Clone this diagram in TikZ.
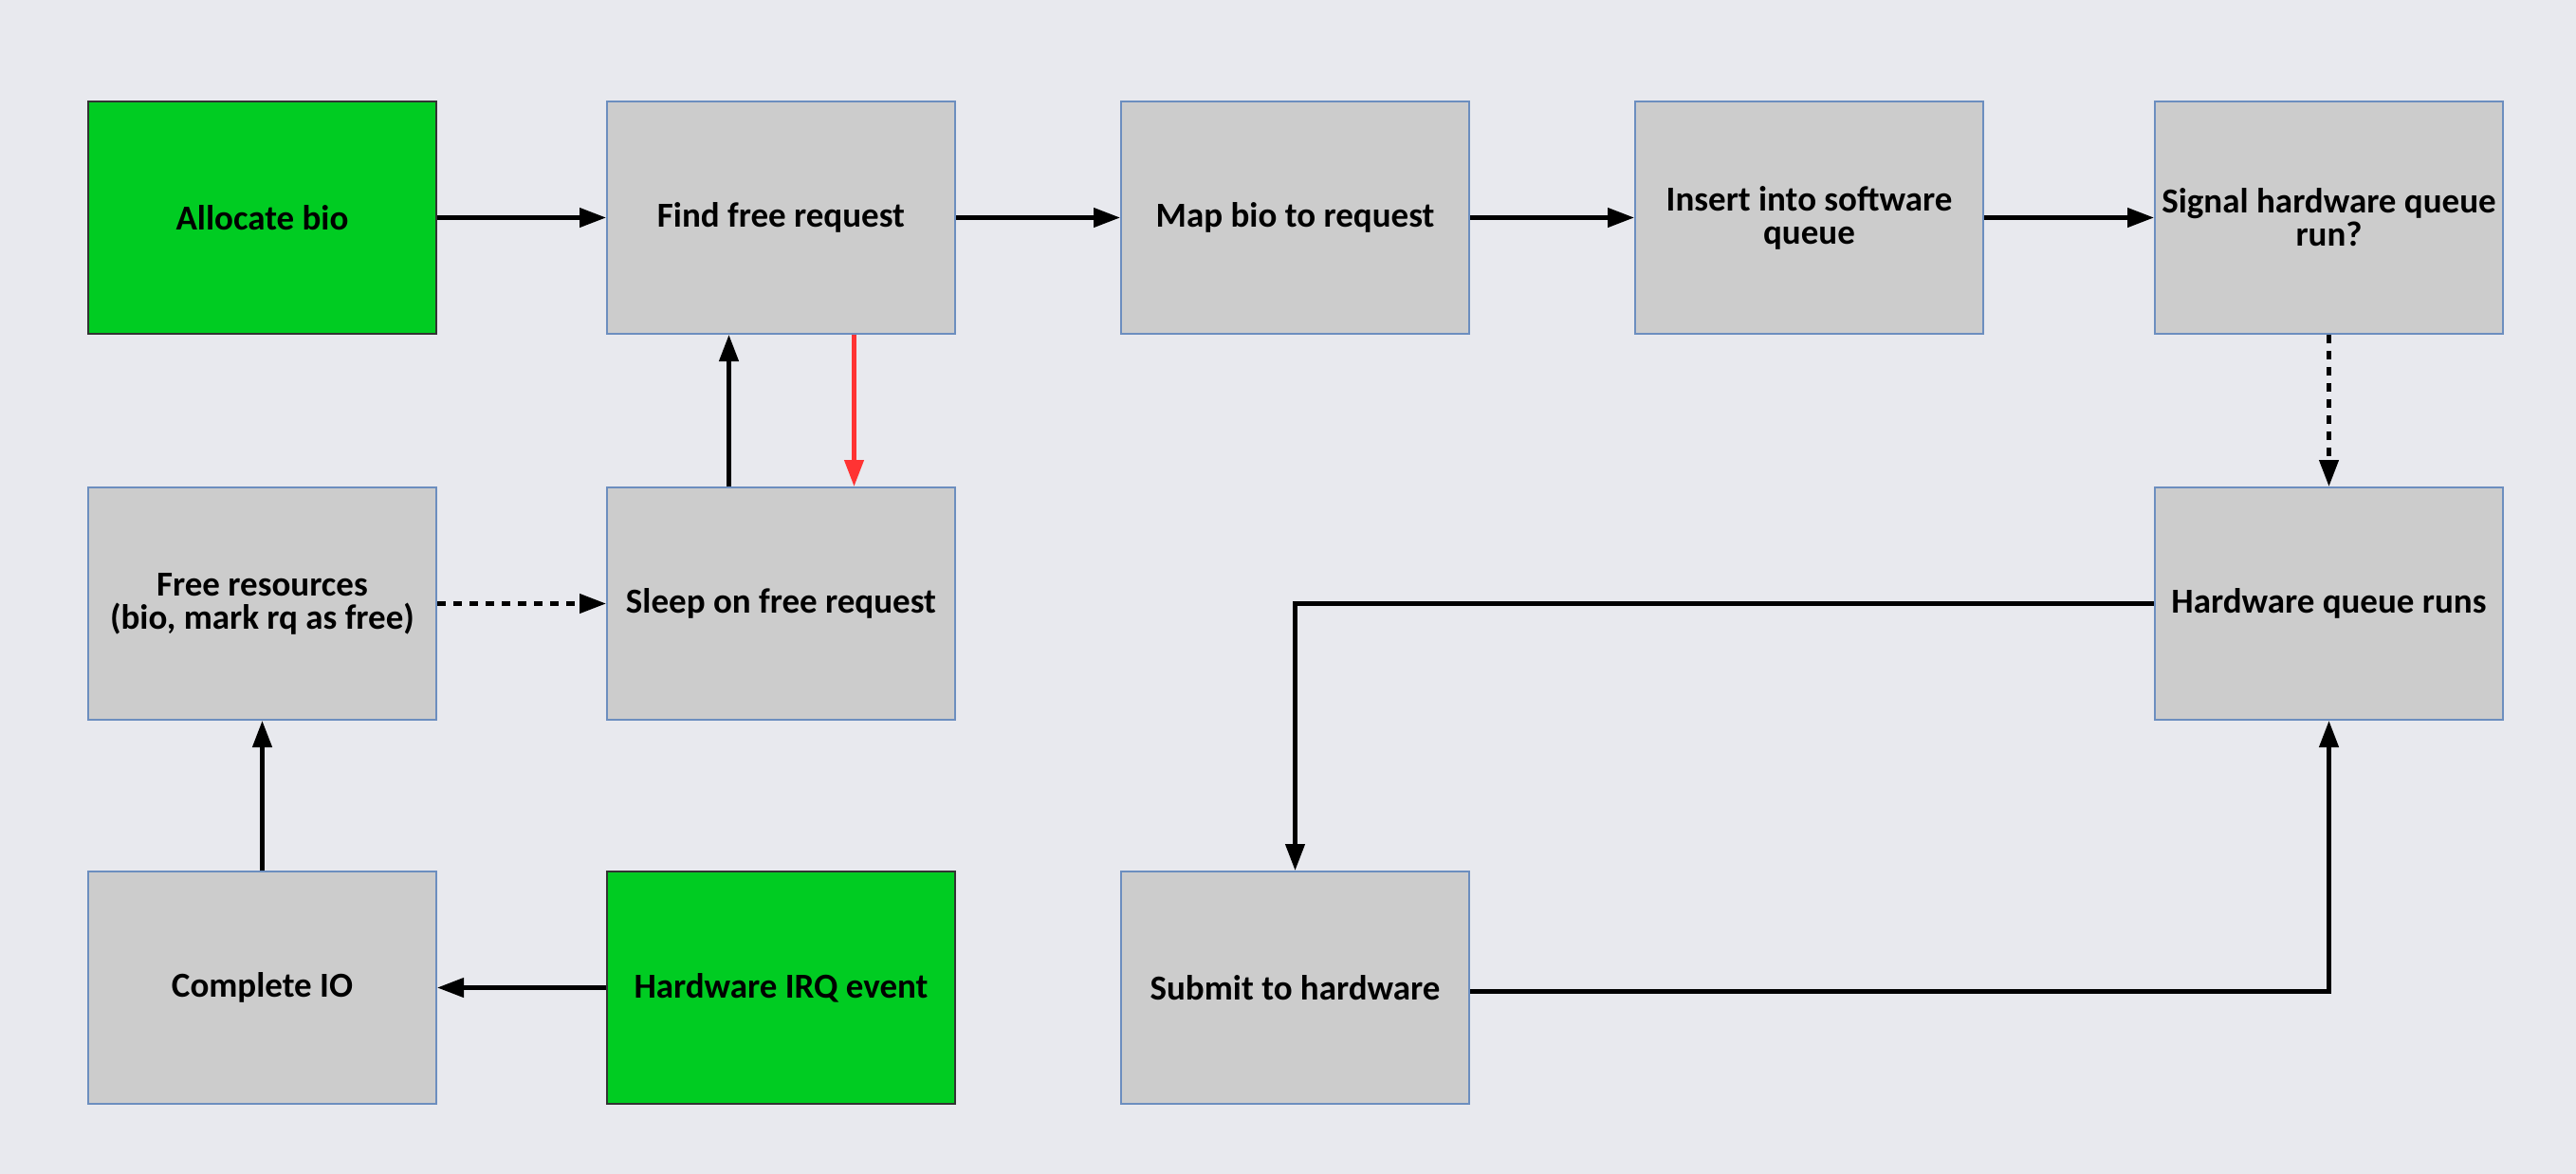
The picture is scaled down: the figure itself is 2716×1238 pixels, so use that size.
\documentclass[tikz,border=0pt]{standalone}
\usepackage{fontspec}
\setmainfont{Carlito}
\usetikzlibrary{arrows.meta}
\definecolor{bg}{RGB}{232,233,238}
\definecolor{boxfill}{RGB}{204,204,204}
\definecolor{boxline}{RGB}{108,142,191}
\definecolor{startgreen}{RGB}{0,204,34}
\definecolor{redline}{RGB}{255,51,51}
\begin{document}
\begin{tikzpicture}[x=1pt,y=-1pt,
  box/.style={draw=boxline, line width=2pt, fill=boxfill, minimum width=367pt, minimum height=245pt, inner sep=0pt, align=center, font=\fontsize{37}{35}\selectfont\bfseries, anchor=north west},
  startbox/.style={box, fill=startgreen, draw=black!80},
  arr/.style={line width=4.3pt, -{Triangle[length=28pt,width=20pt]}},
  dsh/.style={arr, dash pattern=on 9pt off 8pt}]
\fill[bg] (0,0) rectangle (2716,1238);
\useasboundingbox (0,0) rectangle (2716,1238);
\node[startbox] (alloc) at (92,106) {Allocate bio};
\node[box] (find) at (639,106) {Find free request};
\node[box] (map) at (1181,106) {Map bio to request};
\node[box] (insert) at (1723,106) {Insert into software\\queue};
\node[box] (signal) at (2271,106) {Signal hardware queue\\run?};
\node[box] (free) at (92,513) {Free resources\\(bio, mark rq as free)};
\node[box] (sleep) at (639,513) {Sleep on free request};
\node[box] (hwq) at (2271,513) {Hardware queue runs};
\node[box] (complete) at (92,918) {Complete IO};
\node[startbox] (irq) at (639,918) {Hardware IRQ event};
\node[box] (submit) at (1181,918) {Submit to hardware};
\draw[arr] (alloc.east) -- (find.west);
\draw[arr] (find.east) -- (map.west);
\draw[arr] (map.east) -- (insert.west);
\draw[arr] (insert.east) -- (signal.west);
\draw[dsh] (signal.south) -- (hwq.north);
\draw[arr] (hwq.west) -| (submit.north);
\draw[arr] ([yshift=-4pt]submit.east) -| (hwq.south);
\draw[arr] (irq.west) -- (complete.east);
\draw[arr] (complete.north) -- (free.south);
\draw[dsh] (free.east) -- (sleep.west);
\draw[arr] ([xshift=-55pt]sleep.north) -- ([xshift=-55pt]find.south);
\draw[arr, draw=redline, fill=redline] ([xshift=77pt]find.south) -- ([xshift=77pt]sleep.north);
\end{tikzpicture}
\end{document}
